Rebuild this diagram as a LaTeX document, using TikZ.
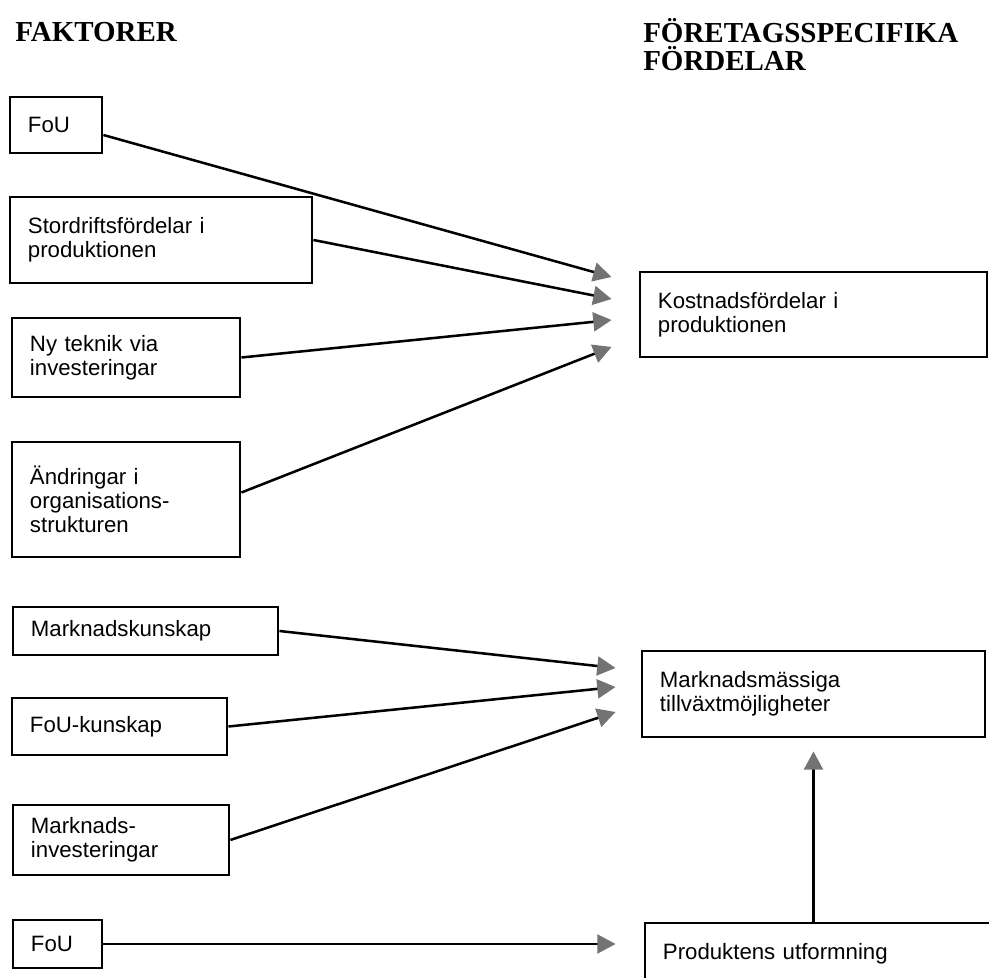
\documentclass[tikz,border=0pt]{standalone}
\usepackage{fontspec}
\setmainfont{Liberation Sans}
\newfontfamily\headfont{Liberation Serif}
\usepackage{tikz}
\usetikzlibrary{arrows.meta, positioning, calc}

\begin{document}
\begin{tikzpicture}[x=0.025cm, y=-0.025cm,
            factor/.style={rectangle, draw=black, line width=2pt, inner xsep=0.45cm, inner ysep=0pt, align=left, font=\fontsize{15.8}{17}\selectfont},
            benefit/.style={factor},
            head/.style={anchor=base west, inner sep=0pt, align=left, font=\headfont\bfseries\fontsize{20.6}{20.6}\selectfont},
            link/.style={line width=1.8pt, -{Triangle[length=13pt, width=13.5pt, color=gray!90!black]}}
        ]
\useasboundingbox (0,0) rectangle (989,978);
\clip (0,0) rectangle (989,978);

% Headings
            \node[head] (hfak) at (15,42) {FAKTORER};
            \node[head] (hfor) at (643,71) {FÖRETAGSSPECIFIKA\\FÖRDELAR};

% Factors
            \node[factor, text width=1.4cm, minimum height=1.4cm] (fou1) at (56,125) {FoU};
            \node[factor, text width=6.65cm, minimum height=2.15cm] (stor) at (161,240) {Stordriftsfördelar i\\produktionen};
            \node[factor, text width=4.8cm, minimum height=1.975cm] (ny) at (126,357.5) {Ny teknik via\\investeringar};
            \node[factor, text width=4.8cm, minimum height=2.875cm] (andr) at (126,499.5) {Ändringar i\\organisations-\\strukturen};
            \node[factor, text width=5.725cm, minimum height=1.2cm] (mkun) at (145.5,631) {Marknadskunskap};
            \node[factor, text width=4.475cm, minimum height=1.425cm] (fouk) at (119.5,726.5) {FoU-kunskap};
            \node[factor, text width=4.5cm, minimum height=1.75cm] (minv) at (121,840) {Marknads-\\investeringar};
            \node[factor, text width=1.325cm, minimum height=1.2cm] (fou2) at (57.5,944) {FoU};

% Benefits
            \node[benefit, text width=7.775cm, minimum height=2.125cm] (kost) at (813.5,314.5) {Kostnadsfördelar i\\produktionen};
            \node[benefit, text width=7.675cm, minimum height=2.15cm] (mark) at (813.5,694) {Marknadsmässiga\\tillväxtmöjligheter};
            \node[benefit, text width=7.975cm, minimum height=1.55cm] (prod) at (822.5,954) {Produktens utformning};

% Arrows to cost advantages
            \draw[link] ($(fou1.east)+(0,10)$) -- ($(kost.west)+(-27,-37.5)$);
            \draw[link] (stor.east) -- ($(kost.west)+(-27,-15.5)$);
            \draw[link] (ny.east) -- ($(kost.west)+(-27,5.5)$);
            \draw[link] ($(andr.east)+(0,-7)$) -- ($(kost.west)+(-27,32.5)$);

% Arrows to market growth
            \draw[link] (mkun.east) -- ($(mark.west)+(-25,-26)$);
            \draw[link] (fouk.east) -- ($(mark.west)+(-25,-7)$);
            \draw[link] (minv.east) -- ($(mark.west)+(-25,18)$);

% Product design
            \draw[link] (fou2.east) -- ($(fou2.east -| prod.west)+(-28,0)$);
            \draw[link] (prod.north -| mark.south) -- ($(mark.south)+(0,13)$);

        \end{tikzpicture}
\end{document}
